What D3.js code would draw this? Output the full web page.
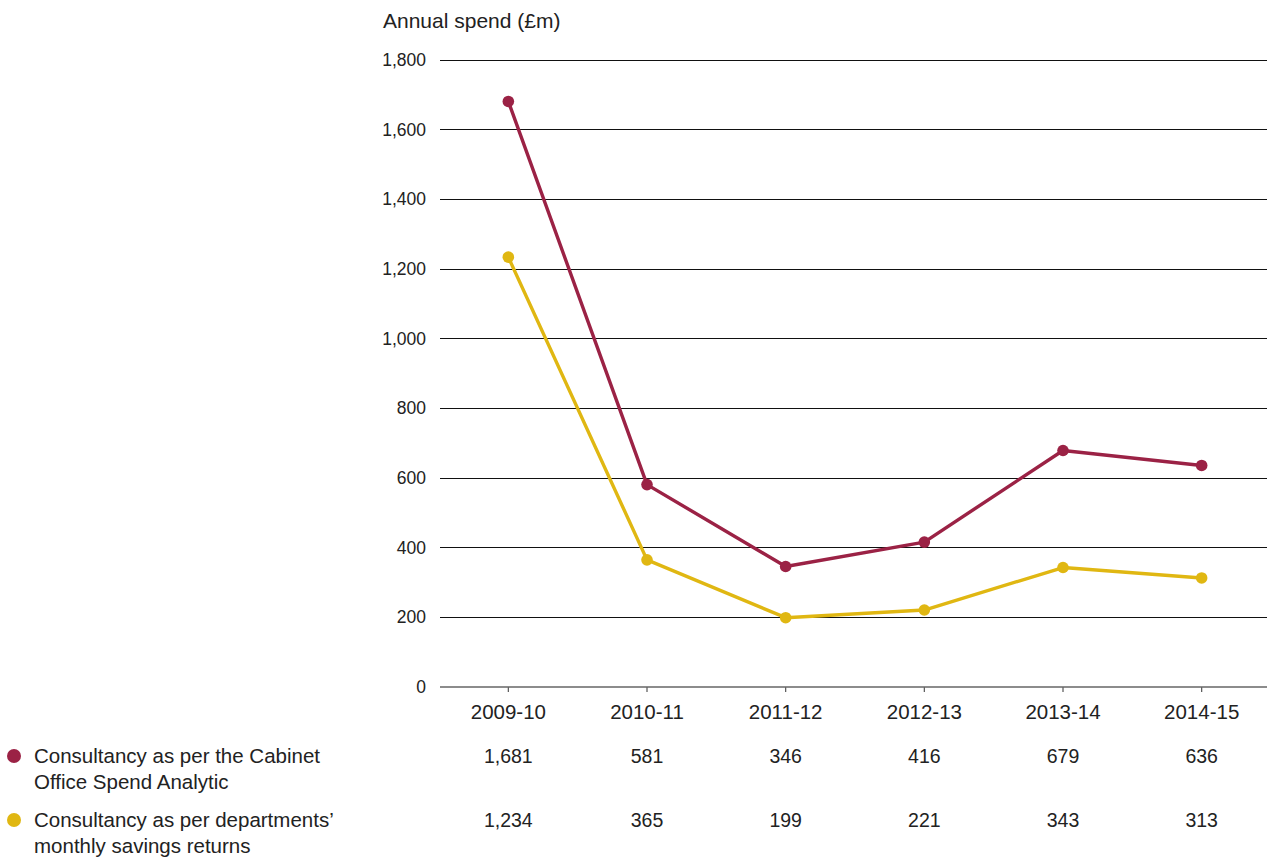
<!DOCTYPE html>
<html>
<head>
<meta charset="utf-8">
<script src="https://cdn.jsdelivr.net/npm/d3@7"></script>
<style>
  html, body { margin: 0; padding: 0; background: #fff; }
  svg { display: block; }
  text { font-family: "Liberation Sans", Arial, sans-serif; fill: #222; }
</style>
</head>
<body>
<svg id="chart" width="1267" height="859"></svg>
<script>
// Financial years on the x-axis
const years = ["2009-10", "2010-11", "2011-12", "2012-13", "2013-14", "2014-15"];
// Consultancy spend (£m), Cabinet Office Spend Analytic
const spendAnalytic = [1681, 581, 346, 416, 679, 636];
// Consultancy spend (£m), departments' monthly savings returns
const savingsReturns = [1234, 365, 199, 221, 343, 313];
// Y-axis ticks
const yTicks = [0, 200, 400, 600, 800, 1000, 1200, 1400, 1600, 1800];

const series = [
  { name: ["Consultancy as per the Cabinet", "Office Spend Analytic"], values: spendAnalytic, color: "#9b2245" },
  { name: ["Consultancy as per departments\u2019", "monthly savings returns"], values: savingsReturns, color: "#e0b712" }
];

const svg = d3.select("#chart");
const fs = { title: 21, yTick: 17.5, xTick: 20.5, value: 19.5, legend: 20.5 };

const plotLeft = 440, plotRight = 1267;
const x = d3.scaleBand().domain(years).range([439, 1271]);
const y = d3.scaleLinear().domain([0, 1800]).range([687, 60]);
const cx = d => x(d) + x.bandwidth() / 2;

// Title
svg.append("text")
  .attr("x", 383).attr("y", 28)
  .style("font-size", fs.title + "px")
  .text("Annual spend (\u00a3m)");

// Horizontal gridlines (excluding zero baseline)
svg.append("g")
  .selectAll("line")
  .data(yTicks.filter(t => t > 0))
  .join("line")
  .attr("x1", plotLeft).attr("x2", plotRight)
  .attr("y1", d => y(d)).attr("y2", d => y(d))
  .attr("stroke", "#111").attr("stroke-width", 1)
  .attr("shape-rendering", "crispEdges");

// Y tick labels
svg.append("g")
  .selectAll("text")
  .data(yTicks)
  .join("text")
  .attr("x", 426).attr("y", d => y(d))
  .attr("dy", "0.35em")
  .attr("text-anchor", "end")
  .style("font-size", fs.yTick + "px")
  .text(d => d3.format(",")(d));

// X axis baseline with ticks
const xAxis = d3.axisBottom(x).tickSize(5).tickSizeOuter(0).tickFormat(d => d).tickPadding(20);
const gx = svg.append("g")
  .attr("transform", `translate(0,${y(0)})`)
  .call(xAxis);
gx.select(".domain").remove();
gx.append("line")
  .attr("x1", plotLeft).attr("x2", plotRight)
  .attr("stroke", "#666").attr("stroke-width", 1.5);
gx.selectAll(".tick line").attr("stroke", "#555").attr("stroke-width", 1.2);
gx.selectAll(".tick text")
  .attr("dy", "0.35em")
  .style("font-family", "'Liberation Sans', Arial, sans-serif")
  .style("font-size", fs.xTick + "px")
  .attr("fill", "#222");

// Lines and markers
const line = d3.line().x((d, i) => cx(years[i])).y(d => y(d));
series.forEach(s => {
  svg.append("path")
    .datum(s.values)
    .attr("d", line)
    .attr("fill", "none")
    .attr("stroke", s.color)
    .attr("stroke-width", 3.4)
    .attr("stroke-linejoin", "round");
  svg.append("g")
    .selectAll("circle")
    .data(s.values)
    .join("circle")
    .attr("cx", (d, i) => cx(years[i]))
    .attr("cy", d => y(d))
    .attr("r", 5.8)
    .attr("fill", s.color);
});

// Legend and value table
const rowY = [756, 820];
series.forEach((s, k) => {
  const ry = rowY[k];
  svg.append("circle")
    .attr("cx", 14).attr("cy", ry)
    .attr("r", 7).attr("fill", s.color);
  s.name.forEach((t, j) => {
    svg.append("text")
      .attr("x", 34).attr("y", ry + j * 26)
      .attr("dy", "0.35em")
      .style("font-size", fs.legend + "px")
      .text(t);
  });
  svg.append("g")
    .selectAll("text")
    .data(s.values)
    .join("text")
    .attr("x", (d, i) => cx(years[i]))
    .attr("y", ry)
    .attr("dy", "0.35em")
    .attr("text-anchor", "middle")
    .style("font-size", fs.value + "px")
    .text(d => d3.format(",")(d));
});
</script>
</body>
</html>
